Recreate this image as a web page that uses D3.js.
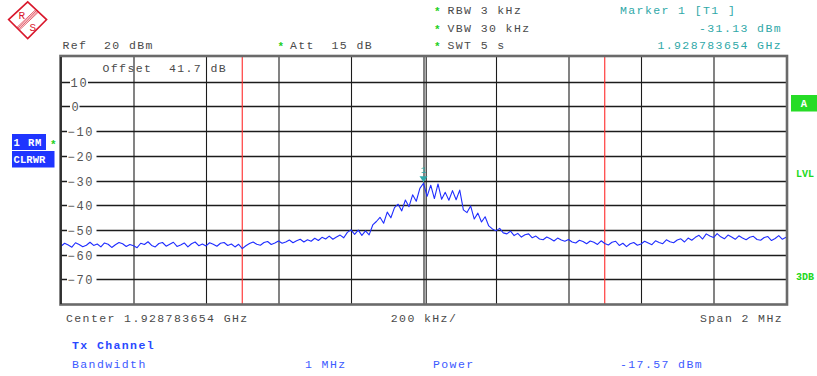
<!DOCTYPE html>
<html><head><meta charset="utf-8">
<script src="https://cdn.jsdelivr.net/npm/d3@7"></script>
<style>
html,body{margin:0;padding:0;background:#fff;}
svg{display:block;}
text{font-family:"Liberation Mono","DejaVu Sans Mono",monospace;white-space:pre;}
</style></head><body>
<svg id="chart" width="817" height="376"></svg>
<script>
// Sweep: 2 MHz span around the centre, one point every 10 kHz
const sweepStartKHz = -1000;
const sweepStepKHz = 10;
const levelRange = [-80, 20];          // dBm, bottom and top of the screen
const freqRange = [-1000, 1000];       // kHz from centre

// Trace 1 (RM, clear/write), dBm per sweep point
const traceDbm = [
  -56.6, -55.4, -56.1, -57.0, -55.2, -55.9, -56.8, -56.2, -55.0, -56.3,
  -55.7, -56.9, -55.3, -55.8, -57.1, -56.0, -55.1, -55.6, -56.7, -55.9,
  -56.4, -57.2, -55.4, -55.9, -54.8, -56.3, -56.9, -55.5, -55.1, -56.6,
  -55.8, -55.0, -56.7, -56.1, -55.3, -56.9, -55.6, -54.9, -56.4, -55.7,
  -56.5, -55.2, -55.8, -56.6, -55.4, -55.1, -56.3, -55.7, -56.9, -55.8,
  -57.6, -56.4, -55.5, -54.9, -55.8, -56.2, -55.1, -54.7, -55.9, -55.3,
  -54.5, -55.4, -54.9, -54.1, -55.2, -54.4, -53.8, -54.9, -54.0, -54.6,
  -53.4, -54.3, -53.0, -53.7, -52.5, -53.8, -52.9, -52.1, -53.2, -51.0,
  -50.0, -51.8, -50.1, -52.2, -50.4, -52.0, -48.0, -46.6, -44.9, -47.3,
  -42.8, -45.1, -41.0, -39.6, -42.3, -37.9, -40.6, -35.8, -38.4, -33.2,
  -31.13,
  -36.4, -31.9, -37.3, -31.4, -37.6, -34.8, -38.0, -34.1, -37.8,
  -33.9, -41.9, -43.0, -40.3, -45.6, -43.2, -46.8, -44.7, -48.4, -49.6,
  -50.4, -49.4, -51.2, -51.6, -50.5, -52.3, -51.4, -52.9, -52.0, -51.6,
  -53.2, -52.5, -53.7, -54.0, -52.9, -53.6, -54.5, -53.3, -54.1, -54.6,
  -53.9, -54.9, -55.3, -54.2, -54.7, -55.6, -54.5, -55.0, -55.9, -54.4,
  -55.5, -56.1, -55.0, -54.6, -56.3, -55.4, -56.8, -55.6, -55.1, -56.2,
  -55.7, -54.6, -55.3, -56.0, -54.4, -55.1, -55.6, -54.0, -54.8, -55.2,
  -54.1, -53.6, -54.9, -53.3, -54.2, -53.0, -52.2, -53.7, -51.6, -52.5,
  -53.1, -51.5, -52.8, -53.6, -52.1, -52.9, -53.8, -52.4, -53.3, -54.0,
  -53.0, -52.6, -53.9, -54.2, -53.1, -52.7, -54.3, -53.5, -52.3, -53.8, -53.0
];

const levelTicks = [10, 0, -10, -20, -30, -40, -50, -60, -70];
const freqGridKHz = [-800, -600, -400, -200, 0, 200, 400, 600, 800];
const channelEdgesKHz = [-500, 500];
const markerFreqKHz = 0;
const markerLevel = -31.13;

// Header and footer texts
const refText = "Ref  20 dBm";
const attText = "Att  15 dB";
const setupRight = ["RBW 3 kHz", "VBW 30 kHz", "SWT 5 s"];
const markerInfo = ["Marker 1 [T1 ]", "-31.13 dBm", "1.928783654 GHz"];
const offsetText = "Offset  41.7 dB";
const footerAxis = ["Center 1.928783654 GHz", "200 kHz/", "Span 2 MHz"];
const channelTitle = "Tx Channel";
const channelRow = ["Bandwidth", "1 MHz", "Power", "-17.57 dBm"];

const svg = d3.select("#chart");
const plot = {left: 61, right: 786, top: 57, bottom: 304};

const x = d3.scaleLinear().domain(freqRange).range([plot.left, plot.right]);
const y = d3.scaleLinear().domain(levelRange).range([plot.bottom, plot.top]);

const grey = "#4a4a4a";
const teal = "#2fa8a8";
const green = "#22d022";
const blue = "#1f35ff";
const txt = (sel, size, ls) => sel.attr("font-size", size).attr("letter-spacing", ls);

// ---- Rohde & Schwarz logo
const logo = svg.append("g");
logo.append("path")
  .attr("d", "M27.7,1.8 L46.6,19.6 L27.7,38.6 L8.6,19.6 Z")
  .attr("fill", "#fff").attr("stroke", "#d9182c").attr("stroke-width", 1.6);
[-1.8, -0.6, 0.6, 1.8].forEach(k => {
  const dx = k * 0.707, dy = k * 0.707;
  logo.append("line")
    .attr("x1", 37.2 + dx).attr("y1", 10.7 + dy)
    .attr("x2", 18.2 + dx).attr("y2", 28.7 + dy)
    .attr("stroke", "#d9182c").attr("stroke-width", 0.7);
});
logo.append("text").attr("x", 18.5).attr("y", 18.5).attr("font-family", "DejaVu Sans")
  .attr("font-size", 11).attr("fill", "#d9182c").text("R");
logo.append("text").attr("x", 29.5).attr("y", 30.5).attr("font-family", "DejaVu Sans")
  .attr("font-size", 11).attr("fill", "#d9182c").text("S");

// ---- header
const star = (gx, gy) => svg.append("text").attr("x", gx).attr("y", gy)
  .attr("font-size", 11).attr("font-weight", "bold").attr("fill", green).text("*");

txt(svg.append("text").attr("x", 62.5).attr("y", 49).attr("fill", grey), 11.5, 1.4).text(refText);
star(277.5, 50);
txt(svg.append("text").attr("x", 290).attr("y", 49).attr("fill", grey), 11.5, 1.4).text(attText);
setupRight.forEach((s, i) => {
  const by = 14 + i * 17.5;
  star(434, by + 1);
  txt(svg.append("text").attr("x", 447.5).attr("y", by).attr("fill", grey), 11.5, 1.4).text(s);
});
txt(svg.append("text").attr("x", 620).attr("y", 14).attr("fill", teal), 11.5, 1.4).text(markerInfo[0]);
markerInfo.slice(1).forEach((s, i) => {
  txt(svg.append("text").attr("x", 782).attr("y", 31.5 + i * 17.5).attr("text-anchor", "end")
    .attr("fill", teal), 11.5, 1.4).text(s);
});

// ---- left trace tags
svg.append("rect").attr("x", 12).attr("y", 134).attr("width", 34).attr("height", 16).attr("fill", blue);
svg.append("rect").attr("x", 12).attr("y", 151).attr("width", 42.5).attr("height", 16.5).attr("fill", blue);
txt(svg.append("text").attr("x", 13.5).attr("y", 146).attr("fill", "#fff").attr("font-weight", "bold"), 10.5, 0.9).text("1 RM");
txt(svg.append("text").attr("x", 13.5).attr("y", 163).attr("fill", "#fff").attr("font-weight", "bold"), 10.5, 0.1).text("CLRWR");
star(50, 148);

// ---- right status tags
svg.append("rect").attr("x", 791).attr("y", 95).attr("width", 26).attr("height", 16.5).attr("fill", "#26dc26");
svg.append("text").attr("x", 804).attr("y", 107).attr("text-anchor", "middle").attr("font-weight", "bold")
  .attr("font-size", 10.5).attr("fill", "#fff").text("A");
[["LVL", 176.5], ["3DB", 279.5]].forEach(([t, by]) => {
  svg.append("text").attr("x", 805).attr("y", by).attr("text-anchor", "middle").attr("font-weight", "bold")
    .attr("font-size", 10).attr("fill", "#22d822").text(t);
});

// ---- plot area
const g = svg.append("g");
g.append("rect").attr("x", plot.left).attr("y", plot.top)
  .attr("width", plot.right - plot.left).attr("height", plot.bottom - plot.top).attr("fill", "#fff");

// vertical grid
g.selectAll("line.vg").data(freqGridKHz).enter().append("line")
  .attr("x1", d => x(d) + 0.5).attr("x2", d => x(d) + 0.5)
  .attr("y1", plot.top).attr("y2", plot.bottom)
  .attr("stroke", "#1c1c1c").attr("stroke-width", 1.1);
// centre line is drawn doubled
g.append("line").attr("x1", x(0) + 2.7).attr("x2", x(0) + 2.7)
  .attr("y1", plot.top).attr("y2", plot.bottom).attr("stroke", "#1c1c1c").attr("stroke-width", 1.1);

// horizontal grid
g.selectAll("line.hg").data(levelTicks).enter().append("line")
  .attr("x1", plot.left).attr("x2", plot.right)
  .attr("y1", d => Math.round(y(d)) + 0.5).attr("y2", d => Math.round(y(d)) + 0.5)
  .attr("stroke", "#1c1c1c").attr("stroke-width", 1.3);

// level labels sit on the grid lines inside the screen
const lab = g.selectAll("g.lab").data(levelTicks).enter().append("g");
lab.append("rect")
  .attr("x", d => (d < 0 ? 67 : 70))
  .attr("y", d => Math.round(y(d)) - 5)
  .attr("width", d => (d < 0 ? 29.5 : (d === 0 ? 9.5 : 18)))
  .attr("height", 11).attr("fill", "#fff");
lab.append("text")
  .attr("x", d => (d < 0 ? 67.5 : (d === 0 ? 71.5 : 70.5)))
  .attr("y", d => Math.round(y(d)) + 4.5)
  .attr("font-size", 12).attr("letter-spacing", 1.7).attr("fill", "#555")
  .text(d => d < 0 ? "\u2212" + Math.abs(d) : String(d));

// channel bandwidth limits
g.selectAll("line.ch").data(channelEdgesKHz).enter().append("line")
  .attr("x1", d => x(d)).attr("x2", d => x(d))
  .attr("y1", plot.top).attr("y2", plot.bottom)
  .attr("stroke", "#ff2a2a").attr("stroke-width", 1.1);

// offset note
txt(g.append("text").attr("x", 102.5).attr("y", 72).attr("fill", grey), 11.5, 1.4).text(offsetText);

// trace
const pts = traceDbm.map((v, i) => [sweepStartKHz + i * sweepStepKHz, v]);
g.append("path").datum(pts)
  .attr("d", d3.line().x(d => x(d[0])).y(d => y(d[1])))
  .attr("fill", "none").attr("stroke", "#1f2dff").attr("stroke-width", 1.1)
  .attr("stroke-linejoin", "round");

// marker 1
const mx = x(markerFreqKHz), my = y(markerLevel);
g.append("path")
  .attr("d", `M${mx - 4},${my - 7} L${mx + 4},${my - 7} L${mx},${my - 1} Z`)
  .attr("fill", teal);
g.append("text").attr("x", mx).attr("y", my - 10).attr("text-anchor", "middle")
  .attr("font-size", 9).attr("fill", teal).text("1");

// screen frame
g.append("rect").attr("x", plot.left - 0.5).attr("y", plot.top - 1)
  .attr("width", plot.right - plot.left + 1.5).attr("height", plot.bottom - plot.top + 1.5)
  .attr("fill", "none").attr("stroke", "#6a6a6a").attr("stroke-width", 2.6);
g.append("line").attr("x1", plot.left).attr("x2", plot.left)
  .attr("y1", plot.top).attr("y2", plot.bottom).attr("stroke", "#222").attr("stroke-width", 1.6);

// ---- footer
txt(svg.append("text").attr("x", 66).attr("y", 322).attr("fill", grey), 11.5, 1.4).text(footerAxis[0]);
txt(svg.append("text").attr("x", 424).attr("y", 322).attr("text-anchor", "middle").attr("fill", grey), 11.5, 1.4).text(footerAxis[1]);
txt(svg.append("text").attr("x", 783).attr("y", 322).attr("text-anchor", "end").attr("fill", grey), 11.5, 1.4).text(footerAxis[2]);

txt(svg.append("text").attr("x", 72).attr("y", 349).attr("fill", "#2a48ff").attr("font-weight", "bold"), 11.5, 1.4).text(channelTitle);
[72, 305, 433, 620].forEach((px, i) => {
  txt(svg.append("text").attr("x", px).attr("y", 368).attr("fill", "#3c5aff"), 11.5, 1.4).text(channelRow[i]);
});
</script>
</body></html>
